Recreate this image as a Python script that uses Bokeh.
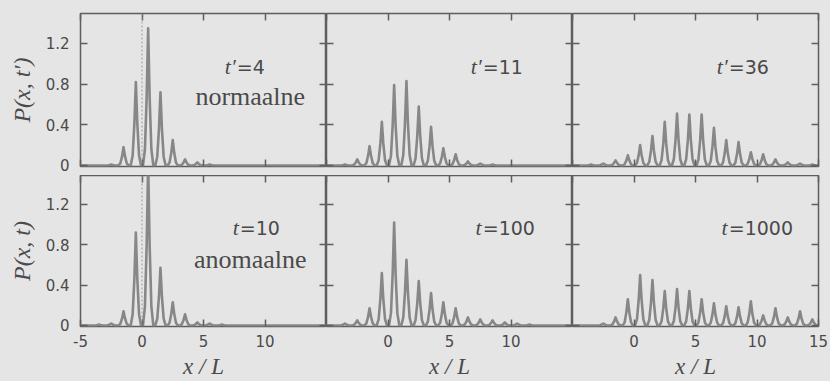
from bokeh.plotting import figure
from bokeh.layouts import gridplot
from bokeh.models import (FixedTicker, LinearAxis, Span, Label, CustomJSTickFormatter,
                          CustomLabelingPolicy, Range1d, ColumnDataSource)
from bokeh.embed import file_html
from bokeh.resources import INLINE

# ---------------- data ----------------
sites = [-4.5, -3.5, -2.5, -1.5, -0.5, 0.5, 1.5, 2.5, 3.5, 4.5,
         5.5, 6.5, 7.5, 8.5, 9.5, 10.5, 11.5, 12.5, 13.5, 14.5]

# normal diffusion (t' = 4, 11, 36)
p_norm_t4 = [0.0, 0.0, 0.01, 0.18, 0.82, 1.35, 0.72, 0.25, 0.06, 0.03,
             0.01, 0.0, 0.0, 0.0, 0.0, 0.0, 0.0, 0.0, 0.0, 0.0]
p_norm_t11 = [0.0, 0.01, 0.06, 0.19, 0.43, 0.79, 0.83, 0.58, 0.38, 0.17,
              0.11, 0.04, 0.02, 0.01, 0.0, 0.0, 0.0, 0.0, 0.0, 0.0]
p_norm_t36 = [0.0, 0.01, 0.02, 0.05, 0.10, 0.20, 0.29, 0.43, 0.51, 0.50,
              0.50, 0.37, 0.25, 0.23, 0.13, 0.11, 0.06, 0.03, 0.02, 0.01]
# anomalous diffusion (t = 10, 100, 1000)
p_anom_t10 = [0.0, 0.01, 0.02, 0.14, 0.92, 1.60, 0.57, 0.23, 0.11, 0.03,
              0.02, 0.01, 0.0, 0.0, 0.0, 0.0, 0.0, 0.0, 0.0, 0.0]
p_anom_t100 = [0.0, 0.02, 0.05, 0.17, 0.52, 1.02, 0.65, 0.44, 0.32, 0.23,
               0.17, 0.08, 0.06, 0.05, 0.03, 0.02, 0.01, 0.0, 0.0, 0.0]
p_anom_t1000 = [0.0, 0.0, 0.02, 0.08, 0.26, 0.50, 0.45, 0.34, 0.36, 0.34,
                0.26, 0.22, 0.19, 0.18, 0.24, 0.10, 0.17, 0.08, 0.14, 0.06]

time_labels_top = ["4", "11", "36"]
time_labels_bottom = ["10", "100", "1000"]
row_names = ["normaalne", "anomaalne"]
x_ticks_labeled = [[-5, 0, 5, 10], [0, 5, 10], [0, 5, 10, 15]]
x_ticks_all = [-5, 0, 5, 10, 15]
y_ticks = [0, 0.4, 0.8, 1.2]

# ---------------- styles ----------------
BG = "#e5e5e5"
FRAME = "#5e5e5e"
CURVE = "#878787"
TEXT = "#4a4a4a"
SANS = "DejaVu Sans"
SERIF = "Liberation Serif"
# peak profile used to draw each lattice peak (style)
PEAK_DX = [-0.42, -0.26, -0.12, 0.0, 0.12, 0.26, 0.42]
PEAK_REL = [0.0, 0.12, 0.5, 1.0, 0.5, 0.12, 0.0]


def curve(heights):
    xs, ys = [-5.0], [0.0]
    for s, h in zip(sites, heights):
        for dx, r in zip(PEAK_DX, PEAK_REL):
            xs.append(s + dx)
            ys.append(h * r)
    xs.append(15.0)
    ys.append(0.0)
    return ColumnDataSource(dict(x=xs, y=ys))


data = [[p_norm_t4, p_norm_t11, p_norm_t36],
        [p_anom_t10, p_anom_t100, p_anom_t1000]]

col_w = [326, 246, 258]
row_h = [175, 206]
y_top = [1.495, 1.485]

NO_LABELS = "for (const i of indices) { indices.unset(i) }\nreturn indices"


def style_axis(ax, labels):
    ax.axis_line_color = None
    ax.major_tick_in = 7
    ax.major_tick_out = 0
    ax.minor_tick_line_color = None
    ax.major_tick_line_color = FRAME
    ax.major_tick_line_width = 1.5
    if labels:
        ax.major_label_text_font = SANS
        ax.major_label_text_font_size = "15px"
        ax.major_label_text_color = TEXT
    else:
        ax.major_label_text_font_size = "0px"
        ax.major_label_standoff = 0
        ax.major_label_policy = CustomLabelingPolicy(code=NO_LABELS)


rows = []
for r in range(2):
    row = []
    for c in range(3):
        p = figure(width=col_w[c], height=row_h[r], output_backend="svg",
                   toolbar_location=None,
                   x_range=Range1d(-5, 15),
                   y_range=Range1d(-0.01, y_top[r]),
                   min_border_left=80 if c == 0 else 0,
                   min_border_right=12 if c == 2 else 0,
                   min_border_top=13 if r == 0 else 0,
                   min_border_bottom=9 if r == 0 else 54,
                   background_fill_color=BG, border_fill_color=BG)
        p.xgrid.visible = False
        p.ygrid.visible = False
        p.outline_line_color = FRAME
        p.outline_line_width = 1.5

        # bottom axis
        xa = p.xaxis[0]
        if r == 1:
            xa.ticker = FixedTicker(ticks=x_ticks_labeled[c])
            style_axis(xa, True)
            xa.formatter = CustomJSTickFormatter(code="return String(tick);")
            xa.major_label_standoff = 8
            xa.axis_label = "x / L"
            xa.axis_label_text_font = SERIF
            xa.axis_label_text_font_style = "italic"
            xa.axis_label_text_font_size = "23px"
            xa.axis_label_text_color = TEXT
            xa.axis_label_standoff = 4
        else:
            xa.ticker = FixedTicker(ticks=x_ticks_all)
            style_axis(xa, False)

        # left axis
        ya = p.yaxis[0]
        ya.ticker = FixedTicker(ticks=y_ticks)
        if c == 0:
            style_axis(ya, True)
            ya.major_label_standoff = 11
            ya.formatter = CustomJSTickFormatter(
                code="return tick == 0 ? '0' : tick.toFixed(1);")
            ya.axis_label = "P(x, t\u2032)" if r == 0 else "P(x, t)"
            ya.axis_label_text_font = SERIF
            ya.axis_label_text_font_style = "italic"
            ya.axis_label_text_font_size = "24px"
            ya.axis_label_text_color = TEXT
            ya.axis_label_standoff = 8
        else:
            style_axis(ya, False)

        # mirrored axes (ticks only)
        ra = LinearAxis(ticker=FixedTicker(ticks=y_ticks))
        style_axis(ra, False)
        p.add_layout(ra, "right")
        ta = LinearAxis(ticker=FixedTicker(ticks=x_ticks_all))
        style_axis(ta, False)
        p.add_layout(ta, "above")

        if c == 0:
            p.add_layout(Span(location=0, dimension="height", line_color="#9a9a9a",
                              line_width=1, line_dash="2 2"))

        p.line("x", "y", source=curve(data[r][c]), line_color=CURVE,
               line_width=2.6, line_join="round")

        # annotations
        eq_x = 7.7 if not (r == 1 and c == 0) else 7.95
        eq_y = 0.97
        num = time_labels_top[c] if r == 0 else time_labels_bottom[c]
        p.add_layout(Label(x=eq_x, y=eq_y, text="=" + num, text_font=SANS,
                           text_font_size="19px", text_color=TEXT,
                           text_align="left", text_baseline="alphabetic"))
        p.add_layout(Label(x=eq_x, y=eq_y, x_offset=-1,
                           text="t\u2032" if r == 0 else "t",
                           text_font=SERIF, text_font_style="italic",
                           text_font_size="22px", text_color=TEXT,
                           text_align="right", text_baseline="alphabetic"))
        if c == 0:
            p.add_layout(Label(x=8.8, y=0.68 if r == 0 else 0.65, text=row_names[r],
                               text_font=SERIF, text_font_size="26px",
                               text_color=TEXT, text_align="center",
                               text_baseline="alphabetic"))
        row.append(p)
    rows.append(row)

grid = gridplot(rows, toolbar_location=None)
grid.styles = {"background-color": BG}
open("out.html", "w").write(file_html(grid, INLINE))
